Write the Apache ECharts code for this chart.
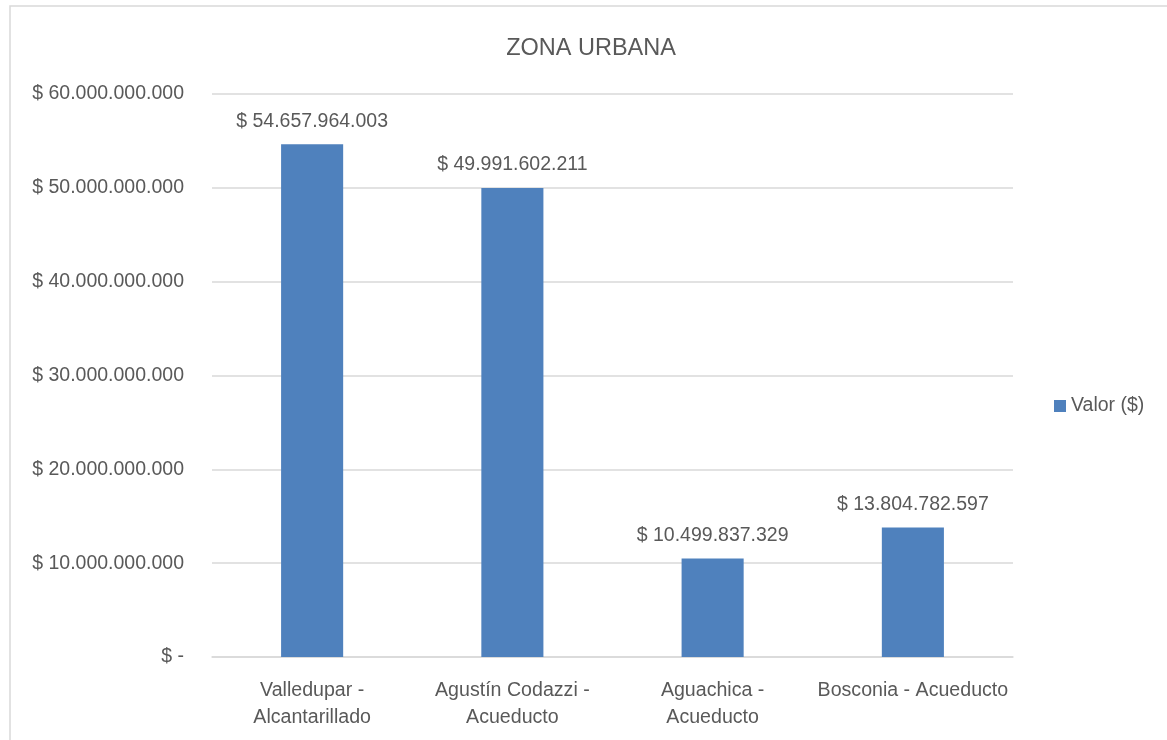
<!DOCTYPE html>
<html>
<head>
<meta charset="utf-8">
<script src="https://cdn.jsdelivr.net/npm/echarts@6/dist/echarts.min.js"></script>
<style>
  html, body { margin: 0; padding: 0; background: #fff; }
  #chart { width: 1167px; height: 740px; }
</style>
</head>
<body>
<div id="chart"></div>
<script>
// categories and values
var categories = [
  "Valledupar -\nAlcantarillado",
  "Agustín Codazzi -\nAcueducto",
  "Aguachica -\nAcueducto",
  "Bosconia - Acueducto"
];
var seriesName = "Valor ($)";
var values = [54657964003, 49991602211, 10499837329, 13804782597];
var yTicks = [0, 10000000000, 20000000000, 30000000000, 40000000000, 50000000000, 60000000000];

var FONT = "'Liberation Sans Narrow', 'Arial Narrow', 'Liberation Sans', sans-serif";
var TEXT = "#595959";

function money(v) {
  if (v === 0) return "$ -";
  var s = Math.round(v).toString().replace(/\B(?=(\d{3})+(?!\d))/g, ".");
  return "$ " + s;
}

var chart = echarts.init(document.getElementById("chart"));
chart.setOption({
  backgroundColor: "#fff",
  animation: false,
  title: {
    text: "ZONA URBANA",
    left: 586,
    textAlign: "center",
    top: 32,
    textStyle: { fontFamily: FONT, fontSize: 23.5, fontWeight: "normal", color: TEXT }
  },
  graphic: [
    {
      type: "rect",
      shape: { x: 10, y: 6, width: 1200, height: 800 },
      style: { fill: null, stroke: "#d9d9d9", lineWidth: 1.5 },
      silent: true
    }
  ],
  legend: {
    data: [seriesName],
    orient: "vertical",
    left: 1054,
    top: 396,
    padding: 0,
    icon: "rect",
    itemWidth: 12,
    itemHeight: 12,
    textStyle: { fontFamily: FONT, fontSize: 19.5, color: TEXT }
  },
  grid: { left: 212, right: 154, top: 94, bottom: 83, containLabel: false },
  xAxis: {
    type: "category",
    data: categories,
    axisLine: { lineStyle: { color: "#d9d9d9", width: 1.5 } },
    axisTick: { show: false },
    axisLabel: {
      interval: 0,
      margin: 20,
      fontFamily: FONT,
      fontSize: 19.6,
      lineHeight: 27,
      color: TEXT
    }
  },
  yAxis: {
    type: "value",
    min: yTicks[0],
    max: yTicks[yTicks.length - 1],
    interval: yTicks[1] - yTicks[0],
    axisLine: { show: false },
    axisTick: { show: false },
    splitLine: { lineStyle: { color: "#d9d9d9", width: 1.5 } },
    axisLabel: {
      margin: 28,
      fontFamily: FONT,
      fontSize: 19.5,
      color: TEXT,
      formatter: money
    }
  },
  series: [
    {
      name: seriesName,
      type: "bar",
      data: values,
      barWidth: "31%",
      itemStyle: { color: "#4f81bd" },
      label: {
        show: true,
        position: "top",
        distance: 13,
        fontFamily: FONT,
        fontSize: 19.5,
        color: TEXT,
        formatter: function (p) { return money(p.value); }
      }
    }
  ]
});
</script>
</body>
</html>
